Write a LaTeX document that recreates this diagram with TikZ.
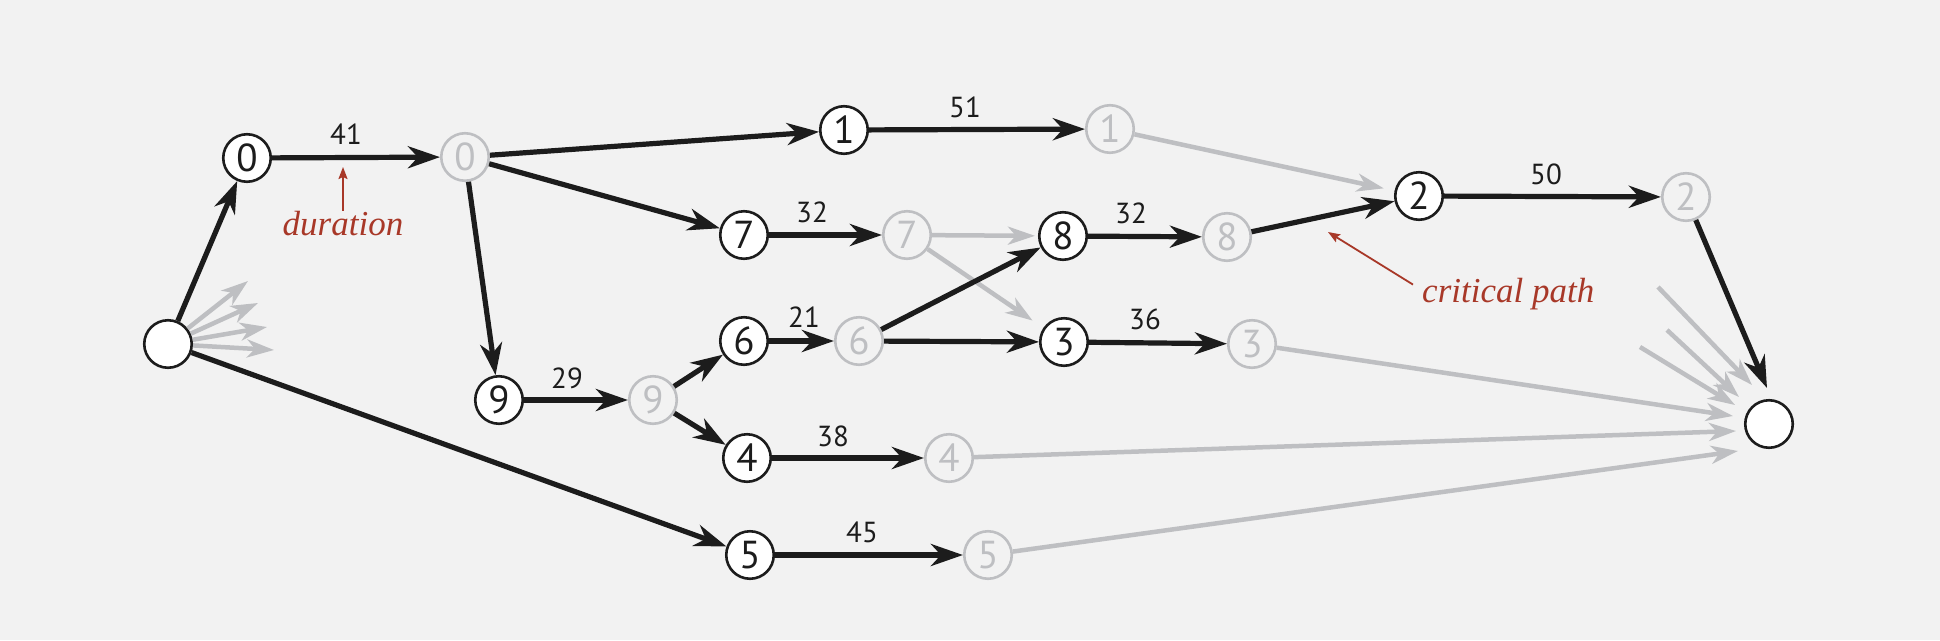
\documentclass[tikz,border=0pt]{standalone}
\usepackage{fontspec}
\setmainfont{Liberation Serif}
\newfontfamily\digitfont{PT Sans}
\usetikzlibrary{arrows.meta}
\definecolor{bg}{HTML}{F2F2F2}
\definecolor{ink}{HTML}{1C1C1C}
\definecolor{lgray}{HTML}{BEBFC2}
\definecolor{annot}{HTML}{A83828}
\begin{document}
\begin{tikzpicture}[x=1pt,y=-1pt,
  bnode/.style={circle,draw=ink,fill=white,line width=2.6pt,minimum size=47.5pt,inner sep=0pt,text=ink,font=\digitfont\fontsize{39}{44}\selectfont},
  gnode/.style={bnode,draw=lgray,fill=bg,text=lgray},
  endnode/.style={circle,draw=ink,fill=white,line width=2.6pt,minimum size=47.5pt,inner sep=0pt},
  bedge/.style={draw=ink,line width=5.2pt,-{Stealth[length=32pt,width=22pt,inset=10pt]}},
  gedge/.style={draw=lgray,line width=4.5pt,-{Stealth[length=27pt,width=18pt,inset=8pt]}},
  lab/.style={text=ink,font=\digitfont\fontsize{29}{32}\selectfont,inner sep=0pt},
  note/.style={text=annot,font=\itshape\fontsize{35}{40}\selectfont,inner sep=0pt},
  noteedge/.style={draw=annot,line width=1.8pt,-{Stealth[length=12pt,width=9pt,inset=2pt]}}
]
\fill[bg] (0,0) rectangle (1940,640);
\useasboundingbox (0,0) rectangle (1940,640);

% nodes
\node[endnode] (s) at (168,344) {};
\node[endnode] (t) at (1769,424) {};
\node[bnode] (a0) at (247,158) {0};
\node[gnode] (b0) at (465,157) {0};
\node[bnode] (a1) at (844,130) {1};
\node[gnode] (b1) at (1110,129) {1};
\node[bnode] (a7) at (744,235) {7};
\node[gnode] (b7) at (907,235) {7};
\node[bnode] (a8) at (1063,236) {8};
\node[gnode] (b8) at (1227,237) {8};
\node[bnode] (a2) at (1419,196) {2};
\node[gnode] (b2) at (1686,197) {2};
\node[bnode] (a6) at (744,341) {6};
\node[gnode] (b6) at (859,341) {6};
\node[bnode] (a3) at (1064,342) {3};
\node[gnode] (b3) at (1252,344) {3};
\node[bnode] (a9) at (499,400) {9};
\node[gnode] (b9) at (653,400) {9};
\node[bnode] (a4) at (747,458) {4};
\node[gnode] (b4) at (949,458) {4};
\node[bnode] (a5) at (750,555) {5};
\node[gnode] (b5) at (988,555) {5};

% free ends
\coordinate (sA) at (248,281);
\coordinate (sB) at (258,303);
\coordinate (sC) at (267,327);
\coordinate (sD) at (274,350);
\coordinate (tAs) at (1658,287);
\coordinate (tAe) at (1752,385);
\coordinate (tBs) at (1667,330);
\coordinate (tBe) at (1739,397);
\coordinate (tCs) at (1640,347);
\coordinate (tCe) at (1735,405);
\coordinate (t2) at (1767,388);
\coordinate (t3) at (1733,416);
\coordinate (t4) at (1736,431);
\coordinate (t5) at (1738,451);

% gray edges
\draw[gedge] (s) -- (sA);
\draw[gedge] (s) -- (sB);
\draw[gedge] (s) -- (sC);
\draw[gedge] (s) -- (sD);
\draw[gedge] (tAs) -- (tAe);
\draw[gedge] (tBs) -- (tBe);
\draw[gedge] (tCs) -- (tCe);
\draw[gedge,shorten >=11pt] (b1) -- (a2);
\draw[gedge,shorten >=3pt] (b7) -- (a8);
\draw[gedge,shorten >=13pt] (b7) -- (a3);
\draw[gedge] (b3) -- (t3);
\draw[gedge] (b4) -- (t4);
\draw[gedge] (b5) -- (t5);

% black edges
\draw[bedge] (s) -- (a0);
\draw[bedge] (a0) -- (b0);
\draw[bedge] (b0) -- (a1);
\draw[bedge] (b0) -- (a7);
\draw[bedge] (b0) -- (a9);
\draw[bedge] (a1) -- (b1);
\draw[bedge] (a7) -- (b7);
\draw[bedge] (a8) -- (b8);
\draw[bedge] (b8) -- (a2);
\draw[bedge] (a2) -- (b2);
\draw[bedge] (b2) -- (t2);
\draw[bedge] (a6) -- (b6);
\draw[bedge] (b6) -- (a8);
\draw[bedge] (b6) -- (a3);
\draw[bedge] (a3) -- (b3);
\draw[bedge] (a9) -- (b9);
\draw[bedge] (b9) -- (a6);
\draw[bedge] (b9) -- (a4);
\draw[bedge] (a4) -- (b4);
\draw[bedge] (s) -- (a5);
\draw[bedge] (a5) -- (b5);

% duration labels
\node[lab] (w41) at (346,134) {41};
\node[lab] (w51) at (965,107) {51};
\node[lab] (w32a) at (812,212) {32};
\node[lab] (w32b) at (1131,213) {32};
\node[lab] (w21) at (804,317) {21};
\node[lab] (w36) at (1145,319) {36};
\node[lab] (w29) at (567,378) {29};
\node[lab] (w38) at (833,436) {38};
\node[lab] (w45) at (862,532) {45};
\node[lab] (w50) at (1546,174) {50};

% annotations
\node[note,anchor=base] (dur) at (343,235) {duration};
\coordinate (durtip) at (343,167);
\draw[noteedge] (dur.north) -- (durtip);
\node[note,anchor=base west] (crit) at (1422,302) {critical path};
\coordinate (crittip) at (1328,232);
\draw[noteedge] ([shift={(-9,-9)}]crit.west) -- (crittip);
\end{tikzpicture}
\end{document}
